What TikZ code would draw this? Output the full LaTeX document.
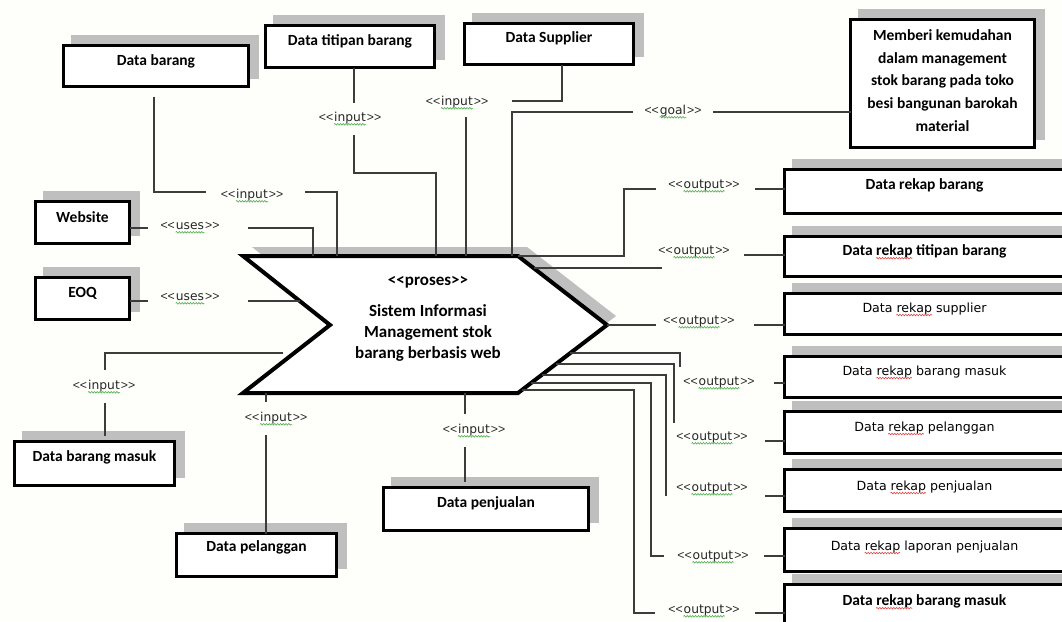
\documentclass[tikz,border=0pt]{standalone}
\usepackage{fontspec}
\usetikzlibrary{calc,decorations.pathmorphing}
\newfontfamily\boxfnt{Carlito}
\newfontfamily\verfnt{DejaVu Sans}
\newfontfamily\libfnt{Liberation Sans}
\newcommand\bfnt{\boxfnt\bfseries\fontsize{15.5}{18}\selectfont}
\newcommand\nfnt{\verfnt\fontsize{12.6}{15}\selectfont}
\newcommand\lfnt{\verfnt\fontsize{12.3}{14}\selectfont}
\newcommand\kfnt{\libfnt\fontsize{12.3}{14}\selectfont}
\definecolor{linec}{HTML}{3C3C3C}
\definecolor{shadowc}{HTML}{BFBFBF}
\definecolor{paper}{HTML}{FEFEFB}
\definecolor{lbltext}{HTML}{262626}
\definecolor{sqgreen}{HTML}{4DB04D}
\definecolor{sqred}{HTML}{E04848}
\newlength\wDataN \newlength\wRekapN
\newlength\wDataB \newlength\wRekapB
% shadowed data box: name, x1, y1, x2, y2 (outer edges), text style, lift, text
\newcommand\dbox[8]{%
  \fill[shadowc] (#2+9,#3-9) rectangle (#4+9,#5-9);
  \pgfmathsetmacro\bw{#4-#2-3}%
  \pgfmathsetmacro\bh{#5-#3-3}%
  \node[box, minimum width=\bw pt, minimum height=\bh pt] (#1) at ({(#2+#4)/2},{(#3+#5)/2}) {};
  \node[#6] (#1T) at ([yshift=#7pt]#1.center) {#8};
}
% stereotype label <<word>> with a wavy underline under its word: name, position, word
\newcommand\slabel[3]{%
  \node[lbl] (#1) at (#2) {#3};
  \node[brk, anchor=base east] (#1L) at ([xshift=-0.6pt]#1.base west) {<<};
  \node[brk, anchor=base west] (#1R) at ([xshift=0.6pt]#1.base east) {>>};
  \draw[gsquig] ([yshift=-2.4pt]#1.base west) -- ([yshift=-2.4pt]#1.base east);
}
% red wavy underline under the word "rekap" of a box caption: text node, offset, width
\newcommand\rekapsq[3]{%
  \draw[rsquig] ([xshift=#2, yshift=-2.6pt]#1.base west) -- ([xshift=#2+#3, yshift=-2.6pt]#1.base west);
}
\begin{document}
\settowidth{\wDataN}{\nfnt Data }%
\settowidth{\wRekapN}{\nfnt rekap}%
\settowidth{\wDataB}{\bfnt Data }%
\settowidth{\wRekapB}{\bfnt rekap}%
\begin{tikzpicture}[x=1pt,y=-1pt,
  conn/.style={draw=linec, line width=1.2pt},
  box/.style={draw=black, fill=white, line width=3pt, inner sep=0pt, outer sep=0pt},
  btxt/.style={font=\bfnt, inner sep=0pt, text height=10.5pt, text depth=3.3pt},
  goaltxt/.style={font=\boxfnt\bfseries\fontsize{15.5}{22.7}\selectfont, inner sep=0pt, align=center},
  ntxt/.style={font=\nfnt, inner sep=0pt, text height=9.6pt, text depth=2.7pt},
  lbl/.style={font=\lfnt, inner sep=0pt, text=lbltext, text height=8.6pt, text depth=2.8pt},
  brk/.style={font=\kfnt, inner sep=0pt, text=lbltext},
  proctxt/.style={font=\boxfnt\bfseries\fontsize{17}{21}\selectfont, inner sep=0pt, align=center},
  gsquig/.style={draw=sqgreen, line width=0.6pt, decorate, decoration={snake, amplitude=0.8pt, segment length=2.8pt}},
  rsquig/.style={draw=sqred, line width=0.6pt, decorate, decoration={snake, amplitude=0.8pt, segment length=2.8pt}},
]
\useasboundingbox (0,0) rectangle (1062,621);
\fill[paper] (0,0) rectangle (1062,621);
\clip (0,0) rectangle (1062,621);

% process chevron with its shadow
\begin{scope}[shift={(9,-9)}]
  \fill[shadowc] (243,256) -- (518,256) -- (607,325) -- (518,393) -- (243,393) -- (330,325) -- cycle;
\end{scope}
\draw[black, line width=4pt, fill=white, line join=miter]
  (243,256) -- (518,256) -- (607,325) -- (518,393) -- (243,393) -- (330,325) -- cycle;
\node[proctxt] (proc1) at (428,282) {<<proses>>};
\node[proctxt] (proc2) at (428,333) {Sistem Informasi\\Management stok\\barang berbasis web};

% data boxes
\dbox{barang}{62}{44}{250}{88}{btxt}{4}{Data barang}
\dbox{titipan}{264}{24}{436}{69}{btxt}{4.5}{Data titipan barang}
\dbox{supplier}{463}{22}{635}{66}{btxt}{5}{Data Supplier}
\dbox{goal}{849}{18}{1036}{149}{goaltxt}{3}{Memberi kemudahan\\dalam management\\stok barang pada toko\\besi bangunan barokah\\material}
\dbox{website}{34}{200}{131}{245}{btxt}{3.5}{Website}
\dbox{eoq}{34}{276}{131}{321}{btxt}{4.5}{EOQ}
\dbox{bmasuk}{13}{440}{176}{487}{btxt}{5.5}{Data barang masuk}
\dbox{pelanggan}{175}{532}{338}{578}{btxt}{7}{Data pelanggan}
\dbox{penjualan}{382}{486}{590}{532}{btxt}{5}{Data penjualan}
\dbox{rbarang}{783}{168}{1066}{215}{btxt}{5.5}{Data rekap barang}
\dbox{rtitip}{783}{235}{1066}{278}{btxt}{4.5}{Data rekap titipan barang}
\dbox{rsupp}{783}{292}{1066}{336}{ntxt}{5}{Data rekap supplier}
\dbox{rmasuk}{783}{355}{1066}{399}{ntxt}{5}{Data rekap barang masuk}
\dbox{rpel}{783}{410}{1066}{455}{ntxt}{4.5}{Data rekap pelanggan}
\dbox{rpenj}{783}{468}{1066}{513}{ntxt}{3.5}{Data rekap penjualan}
\dbox{rlap}{783}{527}{1066}{573}{ntxt}{3}{Data rekap laporan penjualan}
\dbox{rlast}{783}{583}{1066}{629}{btxt}{4}{Data rekap barang masuk}
\rekapsq{rtitipT}{\wDataB}{\wRekapB}
\rekapsq{rsuppT}{\wDataN}{\wRekapN}
\rekapsq{rmasukT}{\wDataN}{\wRekapN}
\rekapsq{rpelT}{\wDataN}{\wRekapN}
\rekapsq{rpenjT}{\wDataN}{\wRekapN}
\rekapsq{rlapT}{\wDataN}{\wRekapN}
\rekapsq{rlastT}{\wDataB}{\wRekapB}

% bend points and free ends of the connectors
\coordinate (k1a) at (206,192); \coordinate (k1b) at (305,192); \coordinate (tA) at (337,256);
\coordinate (k2a) at (148,228); \coordinate (k2b) at (248,228); \coordinate (tB) at (313,256);
\coordinate (k3a) at (354,103); \coordinate (k3b) at (354,135); \coordinate (k3c) at (436,173); \coordinate (tC) at (436,256);
\coordinate (k4a) at (562,101); \coordinate (k4b) at (512,101); \coordinate (k4c) at (466,117); \coordinate (tD) at (466,256);
\coordinate (k5a) at (713,112); \coordinate (k5b) at (633,112); \coordinate (tE) at (512,256);
\coordinate (o1s) at (518,256); \coordinate (o1a) at (624,189); \coordinate (o1b) at (656,189); \coordinate (o1c) at (755,189);
\coordinate (o2s) at (534,268); \coordinate (o2a) at (662,268); \coordinate (o2b) at (744,255);
\coordinate (tip) at (607,325); \coordinate (o3a) at (656,325); \coordinate (o3b) at (754,325);
\coordinate (o4s) at (570,353); \coordinate (o4a) at (680,367); \coordinate (o4b) at (774,383);
\coordinate (o5s) at (556,364); \coordinate (o5a) at (674,423); \coordinate (o5b) at (765,441);
\coordinate (o6s) at (542,375); \coordinate (o6a) at (666,496); \coordinate (o6b) at (765,496);
\coordinate (o7s) at (531,383); \coordinate (o7a) at (651,556); \coordinate (o7c) at (664,556); \coordinate (o7b) at (764,556);
\coordinate (o8s) at (522,390); \coordinate (o8a) at (634,613); \coordinate (o8c) at (655,613); \coordinate (o8b) at (755,613);
\coordinate (i1a) at (148,301); \coordinate (i1b) at (248,301); \coordinate (i1e) at (300,301);
\coordinate (i2s) at (283,353); \coordinate (i2a) at (105,370); \coordinate (i2b) at (105,403);
\coordinate (i3s) at (266,393); \coordinate (i3a) at (266,402); \coordinate (i3b) at (266,435);
\coordinate (i4s) at (465,393); \coordinate (i4a) at (465,414); \coordinate (i4b) at (465,447);

% inputs and uses on top
\draw[conn] ([shift={(-2,10)}]barang.south) |- (k1a);
\draw[conn] (k1b) -| (tA);
\draw[conn] (website.east |- k2a) -- (k2a);
\draw[conn] (k2b) -| (tB);
\draw[conn] (titipan.south -| k3a) -- (k3a);
\draw[conn] (k3b) |- (k3c) -- (tC);
\draw[conn] (supplier.south -| k4a) -- (k4a) -- (k4b);
\draw[conn] (k4c) -- (tD);
\draw[conn] (goal.west |- k5a) -- (k5a);
\draw[conn] (k5b) -| (tE);

% outputs on the right
\draw[conn] (o1s) -| (o1a) -- (o1b);
\draw[conn] (o1c) -- (rbarang.west |- o1c);
\draw[conn] (o2s) -- (o2a);
\draw[conn] (o2b) -- (rtitip.west |- o2b);
\draw[conn] (tip) -- (o3a);
\draw[conn] (o3b) -- (rsupp.west |- o3b);
\draw[conn] (o4s) -| (o4a);
\draw[conn] (o4b) -- (rmasuk.west |- o4b);
\draw[conn] (o5s) -| (o5a);
\draw[conn] (o5b) -- (rpel.west |- o5b);
\draw[conn] (o6s) -| (o6a);
\draw[conn] (o6b) -- (rpenj.west |- o6b);
\draw[conn] (o7s) -| (o7a) -- (o7c);
\draw[conn] (o7b) -- (rlap.west |- o7b);
\draw[conn] (o8s) -| (o8a) -- (o8c);
\draw[conn] (o8b) -- (rlast.west |- o8b);

% inputs and uses on the left and bottom
\draw[conn] (eoq.east |- i1a) -- (i1a);
\draw[conn] (i1b) -- (i1e);
\draw[conn] (i2s) -| (i2a);
\draw[conn, shorten >=6pt] (i2b) -- (bmasuk.north -| i2b);
\draw[conn] (i3s) -- (i3a);
\draw[conn] (i3b) -- (pelanggan.north -| i3b);
\draw[conn] (i4s) -- (i4a);
\draw[conn, shorten >=6pt] (i4b) -- (penjualan.north -| i4b);

% stereotype labels
\slabel{l1}{252,196}{input}
\slabel{l2}{190,227}{uses}
\slabel{l3}{350,119}{input}
\slabel{l4}{457,103}{input}
\slabel{l5}{673,112}{goal}
\slabel{l6}{704,186}{output}
\slabel{l7}{694,252}{output}
\slabel{l8}{699,322}{output}
\slabel{l9}{719,383}{output}
\slabel{l10}{712,438}{output}
\slabel{l11}{712,489}{output}
\slabel{l12}{713,557}{output}
\slabel{l13}{704,611}{output}
\slabel{l14}{190,298}{uses}
\slabel{l15}{104,387}{input}
\slabel{l16}{276,419}{input}
\slabel{l17}{474,431}{input}
\end{tikzpicture}
\end{document}
